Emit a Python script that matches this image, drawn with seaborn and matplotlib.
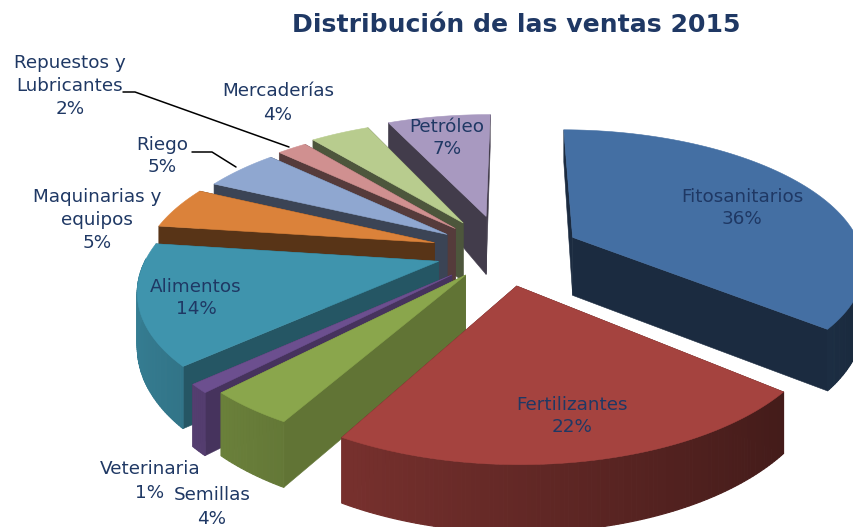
import numpy as np
import pandas as pd
import seaborn as sns
import matplotlib
matplotlib.use("Agg")
import matplotlib.pyplot as plt
from matplotlib.patches import Polygon

categories = ["Fitosanitarios", "Fertilizantes", "Semillas", "Veterinaria", "Alimentos",
              "Maquinarias y\nequipos", "Riego", "Repuestos y\nLubricantes", "Mercaderías", "Petróleo"]
shares = [36, 22, 4, 1, 14, 5, 5, 2, 4, 7]

df = pd.DataFrame({"cat": categories, "share": shares})

sns.set_theme(style="white")
plt.rcParams["font.family"] = ["DejaVu Sans"]

COLORS = ["#446FA3", "#A5433F", "#8AA64C", "#6C4F8F", "#3F94AD",
          "#DB823A", "#8FA7D0", "#D09090", "#B8CC8E", "#A899C0"]
EXPLODE = [0.27, 0.25, 0.21, 0.24, 0.23, 0.25, 0.24, 0.25, 0.27, 0.29]
WALL = [0.39, 0.5, 0.70, 0.65, 0.58, 0.40, 0.41, 0.41, 0.42, 0.39]
TXT = "#1F3864"
CX, CY, RX, RY, PERSP = 503, 252, 290, 132, 5.5
START = -89.6

def project(u, v):
    s = PERSP / (PERSP - v)
    return CX + RX * u * s, CY + RY * v * s

def rim_depth(v):
    return 50 + 18 * v

def shade(c, f):
    return tuple(np.clip(np.array(matplotlib.colors.to_rgb(c)) * f, 0, 1))

fig = plt.figure(figsize=(8.54, 5.27), dpi=100)
ax = fig.add_axes([0, 0, 1, 1])
ax.set_xlim(0, 854)
ax.set_ylim(527, 0)
ax.axis("off")

ends = START + np.cumsum(df["share"].to_numpy()) * 3.6
starts = ends - df["share"].to_numpy() * 3.6
mids = np.radians((starts + ends) / 2)
for i in np.argsort(np.sin(mids)):
    a0, a1 = np.radians(starts[i]), np.radians(ends[i])
    ox, oy = EXPLODE[i] * np.cos(mids[i]), EXPLODE[i] * np.sin(mids[i])
    col = COLORS[i]
    z = float(np.sin(mids[i])) + 2
    # radial walls
    for a in (a1, a0):
        rr = np.linspace(0, 1, 12)
        xs, ys = project(ox + rr * np.cos(a), oy + rr * np.sin(a))
        d = 58 * (1 - rr) + rr * rim_depth(np.sin(a))
        pts = np.r_[np.c_[xs, ys], np.c_[xs, ys + d][::-1]]
        ax.add_patch(Polygon(pts, closed=True, fc=shade(col, WALL[i]), ec=shade(col, WALL[i]), lw=0.4, zorder=z))
    # outer wall as shaded strips; strips facing away from the viewer stay hidden
    tt = np.linspace(a0, a1, max(6, int(shares[i] * 5)) + 1)
    for t0, t1 in zip(tt[:-1], tt[1:]):
        if np.sin((t0 + t1) / 2) < -0.02:
            continue
        x, y = project(ox + np.cos([t0, t1]), oy + np.sin([t0, t1]))
        d = rim_depth(np.sin([t0, t1]))
        pts = [(x[0], y[0]), (x[1], y[1]), (x[1], y[1] + d[1]), (x[0], y[0] + d[0])]
        f = 0.6 - 0.25 * np.cos((t0 + t1) / 2)
        ax.add_patch(Polygon(pts, closed=True, fc=shade(col, f), ec=shade(col, f), lw=0.8, zorder=z + 0.01))
    # top face
    t = np.linspace(a0, a1, 80)
    x, y = project(ox + np.cos(t), oy + np.sin(t))
    ax0, ay0 = project(ox, oy)
    ax.add_patch(Polygon(np.r_[[[ax0, ay0]], np.c_[x, y]], closed=True, fc=col, ec=col, lw=0.4, zorder=z + 0.02))

LABEL_POS = [(742, 208), (572, 416), (212, 507), (150, 481), (196, 298),
             (97, 220), (162, 156), (70, 86), (278, 103), (447, 138)]
LINE_STEP = 23
for i, (px, py) in enumerate(LABEL_POS):
    lines = f"{categories[i]}\n{shares[i]}%".split("\n")
    for k, line in enumerate(lines):
        ax.text(px, py + (k - (len(lines) - 1) / 2) * LINE_STEP, line, ha="center", va="center",
                color=TXT, fontsize=13.2, zorder=10)

ax.plot([192, 212, 236], [152, 152, 167], color="black", lw=1.1, zorder=9)
ax.plot([123, 135, 289], [92, 92, 147], color="black", lw=1.1, zorder=9)
ax.text(516, 25, "Distribución de las ventas 2015", ha="center", va="center", color=TXT,
        fontsize=18.1, fontweight="bold", zorder=10)

fig.savefig("out.png", dpi=100)
